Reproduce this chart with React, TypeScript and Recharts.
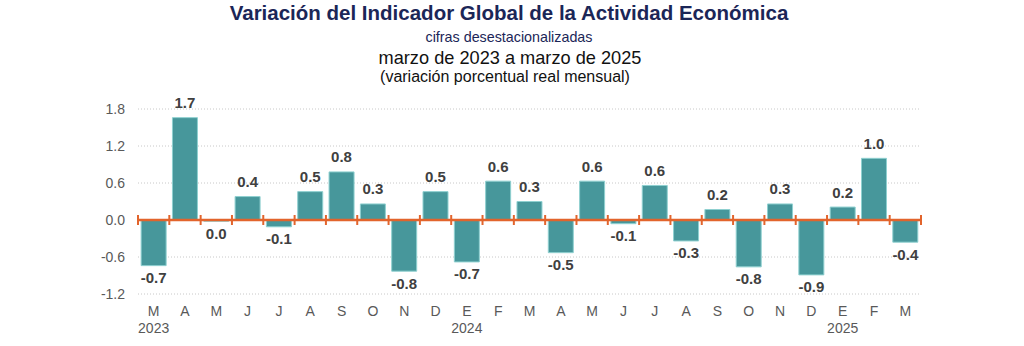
import { Bar, BarChart, CartesianGrid, ReferenceLine, XAxis, YAxis } from "recharts";

const periods = [
  "2023-03", "2023-04", "2023-05", "2023-06", "2023-07", "2023-08", "2023-09",
  "2023-10", "2023-11", "2023-12", "2024-01", "2024-02", "2024-03", "2024-04",
  "2024-05", "2024-06", "2024-07", "2024-08", "2024-09", "2024-10", "2024-11",
  "2024-12", "2025-01", "2025-02", "2025-03",
];
const monthLetters = [
  "M", "A", "M", "J", "J", "A", "S", "O", "N", "D", "E", "F", "M", "A",
  "M", "J", "J", "A", "S", "O", "N", "D", "E", "F", "M",
];
const yearLabels = [
  "2023", "", "", "", "", "", "", "", "", "", "2024", "", "", "", "", "", "",
  "", "", "", "", "", "2025", "", "",
];
const variation = [
  -0.74, 1.66, -0.02, 0.38, -0.11, 0.46, 0.78, 0.26, -0.83, 0.46, -0.68, 0.63,
  0.3, -0.53, 0.63, -0.06, 0.56, -0.34, 0.17, -0.76, 0.26, -0.89, 0.21, 1.0, -0.36,
];
const yTicks = [-1.2, -0.6, 0, 0.6, 1.2, 1.8];

const data = periods.map((p, i) => ({
  period: p,
  month: monthLetters[i],
  year: yearLabels[i],
  value: variation[i],
}));

const FONT = "'Liberation Sans', Arial, sans-serif";
const ORANGE = "#E2642C";

const fmt = (v: number) => (Math.abs(v) < 0.05 ? "0.0" : v.toFixed(1));

function MonthTick(props: any) {
  const { x, y, index } = props;
  const d = data[index];
  return (
    <g>
      <text x={x} y={y + 14} textAnchor="middle" fill="#595959" fontSize={14} fontFamily={FONT}>
        {d?.month}
      </text>
      {d?.year ? (
        <text x={x} y={y + 31} textAnchor="middle" fill="#595959" fontSize={14} fontFamily={FONT}>
          {d.year}
        </text>
      ) : null}
    </g>
  );
}

function ValueLabel(props: any) {
  const { x, y, width, height, value } = props;
  const top = Math.min(y, y + height);
  const bottom = Math.max(y, y + height);
  const neg = value < 0;
  return (
    <text
      x={x + width / 2}
      y={neg ? bottom + 12 : top - 15}
      textAnchor="middle"
      dominantBaseline="central"
      fill="#404040"
      fontSize={15}
      fontWeight="bold"
      fontFamily={FONT}
    >
      {fmt(value)}
    </text>
  );
}

// zero line with short ticks at every category boundary
function ZeroAxis(props: any) {
  const { x1, x2, y1 } = props;
  if (x1 == null || x2 == null || y1 == null) return null;
  const step = (x2 - x1) / periods.length;
  return (
    <g>
      <line x1={x1} x2={x2} y1={y1} y2={y1} stroke={ORANGE} strokeWidth={2.5} />
      {Array.from({ length: periods.length + 1 }, (_, i) => (
        <line
          key={i}
          x1={x1 + i * step}
          x2={x1 + i * step}
          y1={y1 - 5}
          y2={y1 + 5}
          stroke={ORANGE}
          strokeWidth={2}
        />
      ))}
    </g>
  );
}

export default function App() {
  return (
    <div style={{ position: "absolute", left: 0, top: 0, width: 1024, height: 346, background: "#fff" }}>
      <svg width={1024} height={100} style={{ position: "absolute", left: 0, top: 0 }} fontFamily={FONT}>
        <text x={509} y={20} textAnchor="middle" fontSize={20.5} fontWeight="bold" fill="#1B2657">
          Variación del Indicador Global de la Actividad Económica
        </text>
        <text x={509} y={42} textAnchor="middle" fontSize={14.3} fill="#1B2657">
          cifras desestacionalizadas
        </text>
        <text x={510} y={64} textAnchor="middle" fontSize={18.2} fill="#111">
          marzo de 2023 a marzo de 2025
        </text>
        <text x={505} y={82} textAnchor="middle" fontSize={16} fill="#111">
          (variación porcentual real mensual)
        </text>
      </svg>
      <div style={{ position: "absolute", left: 0, top: 0 }}>
        <BarChart
          width={1024}
          height={346}
          data={data}
          margin={{ top: 109, right: 103, left: 78, bottom: 12 }}
          barCategoryGap="10%"
        >
          <CartesianGrid vertical={false} stroke="#c8c8c8" strokeDasharray="1 2" />
          <XAxis
            dataKey="period"
            height={40}
            axisLine={false}
            tickLine={false}
            interval={0}
            allowDuplicatedCategory={false}
            tick={<MonthTick />}
          />
          <YAxis
            width={60}
            domain={[-1.2, 1.8]}
            ticks={yTicks}
            axisLine={false}
            tickLine={false}
            tickMargin={7}
            tickFormatter={(v: number) => v.toFixed(1)}
            tick={{ fill: "#595959", fontSize: 14, fontFamily: FONT }}
          />
          <Bar
            dataKey="value"
            fill="#47979B"
            stroke="#8FD0D0"
            strokeWidth={1}
            isAnimationActive={false}
            label={<ValueLabel />}
          />
          <ReferenceLine y={0} stroke={ORANGE} strokeWidth={2.5} shape={<ZeroAxis />} />
        </BarChart>
      </div>
    </div>
  );
}
